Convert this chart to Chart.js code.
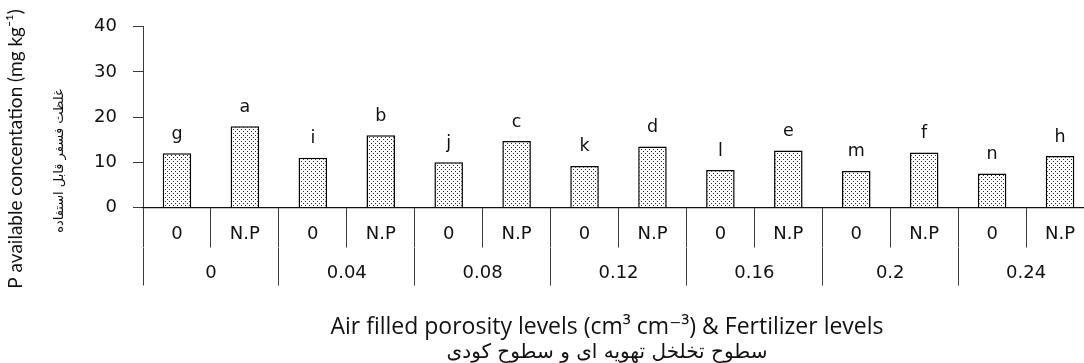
<!DOCTYPE html>
<html>
<head>
<meta charset="utf-8">
<script src="https://cdn.jsdelivr.net/npm/chart.js@4.4.1/dist/chart.umd.min.js"></script>
<style>
  html, body { margin: 0; padding: 0; background: #fff; overflow: hidden; }
  #wrap { position: relative; width: 1100px; height: 363px; }
</style>
</head>
<body>
<div id="wrap"><canvas id="c"></canvas></div>
<script>
// ---- data ----
const fertilizerLevels = ['0', 'N.P', '0', 'N.P', '0', 'N.P', '0', 'N.P', '0', 'N.P', '0', 'N.P', '0', 'N.P'];
const porosityLevels = ['0', '0.04', '0.08', '0.12', '0.16', '0.2', '0.24'];
const pValues = [12.0, 18.0, 11.0, 16.0, 10.0, 14.7, 9.2, 13.5, 8.3, 12.6, 8.1, 12.2, 7.5, 11.4];
const letters = ['g', 'a', 'i', 'b', 'j', 'c', 'k', 'd', 'l', 'e', 'm', 'f', 'n', 'h'];
const yTitleEn = 'P available concentation (mg kg\u207B\u00B9)';
const yTitleFa = 'غلظت فسفر قابل استفاده';
const xTitleEn = 'Air filled porosity levels (cm\u00B3 cm\u207B\u00B3) & Fertilizer levels';
const xTitleFa = 'سطوح تخلخل تهویه ای و سطوح کودی';

// ---- dotted fill pattern ----
function makePattern() {
  const t = document.createElement('canvas');
  t.width = 4; t.height = 4;
  const g = t.getContext('2d');
  g.fillStyle = '#ffffff';
  g.fillRect(0, 0, 4, 4);
  g.fillStyle = '#2a2a2a';
  g.fillRect(1, 1, 1, 1);
  g.fillRect(3, 3, 1, 1);
  return g.createPattern(t, 'repeat');
}

const tickFont = { family: "'DejaVu Sans', Verdana, sans-serif", size: 18 };
const lineColor = '#3a3a3a';

const letterPlugin = {
  id: 'letters',
  afterDatasetsDraw(chart) {
    const ctx = chart.ctx;
    const meta = chart.getDatasetMeta(0);
    ctx.save();
    ctx.fillStyle = '#111';
    ctx.font = "17.5px 'DejaVu Sans', Verdana, sans-serif";
    ctx.textAlign = 'center';
    ctx.textBaseline = 'alphabetic';
    meta.data.forEach((bar, i) => {
      ctx.fillText(letters[i], bar.x, bar.y - 14.5);
    });
    ctx.restore();
  }
};

const titlePlugin = {
  id: 'titles',
  afterDraw(chart) {
    const ctx = chart.ctx;
    ctx.save();
    ctx.fillStyle = '#111';
    ctx.textAlign = 'center';
    ctx.textBaseline = 'middle';
    // y titles
    ctx.save();
    ctx.translate(16, 149);
    ctx.rotate(-Math.PI / 2);
    ctx.font = "19px Lato, 'DejaVu Sans', sans-serif";
    ctx.fillText(yTitleEn, 0, 0);
    ctx.restore();
    ctx.save();
    ctx.translate(60, 161);
    ctx.rotate(-Math.PI / 2);
    ctx.direction = 'rtl';
    ctx.font = "13px 'DejaVu Sans', sans-serif";
    ctx.fillText(yTitleFa, 0, 0);
    ctx.restore();
    // x titles
    ctx.font = "23px 'Open Sans', 'DejaVu Sans', sans-serif";
    ctx.fillText(xTitleEn, 607, 327);
    ctx.direction = 'rtl';
    ctx.font = "20px 'DejaVu Sans', sans-serif";
    ctx.fillText(xTitleFa, 607, 353);
    ctx.restore();
  }
};

new Chart(document.getElementById('c'), {
  type: 'bar',
  data: {
    labels: fertilizerLevels,
    datasets: [{
      data: pValues,
      backgroundColor: makePattern(),
      borderColor: '#000',
      borderWidth: 1.5,
      borderSkipped: 'bottom',
      categoryPercentage: 1.0,
      barPercentage: 0.42,
      xAxisID: 'x',
      yAxisID: 'y'
    }]
  },
  options: {
    responsive: true,
    maintainAspectRatio: false,
    animation: false,
    layout: { padding: { top: 20, right: 6, bottom: 75.5, left: 0 } },
    plugins: { legend: { display: false }, tooltip: { enabled: false } },
    scales: {
      y: {
        position: 'left',
        min: 0, max: 40,
        afterFit(s) { s.width = 143; },
        ticks: { stepSize: 10, font: { family: "'DejaVu Sans', Verdana, sans-serif", size: 18 }, color: '#111', padding: 16 },
        grid: { drawOnChartArea: false, drawTicks: true, tickLength: 10, color: lineColor },
        border: { display: true, color: lineColor, width: 1 }
      },
      x: {
        position: 'bottom',
        weight: 0,
        offset: true,
        afterFit(s) { s.height = 40; },
        ticks: { font: tickFont, color: '#111', padding: -24, autoSkip: false, maxRotation: 0 },
        grid: { offset: true, drawOnChartArea: false, drawTicks: true, tickLength: 40, color: lineColor },
        border: { display: true, color: '#111', width: 1.2 }
      },
      x2: {
        type: 'category',
        position: 'bottom',
        weight: 1,
        labels: porosityLevels,
        offset: true,
        afterFit(s) { s.height = 40; },
        ticks: { font: tickFont, color: '#111', padding: -22.5, autoSkip: false, maxRotation: 0 },
        grid: { offset: true, drawOnChartArea: false, drawTicks: true, tickLength: 38, color: lineColor },
        border: { display: false }
      }
    }
  },
  plugins: [letterPlugin, titlePlugin]
});
</script>
</body>
</html>
